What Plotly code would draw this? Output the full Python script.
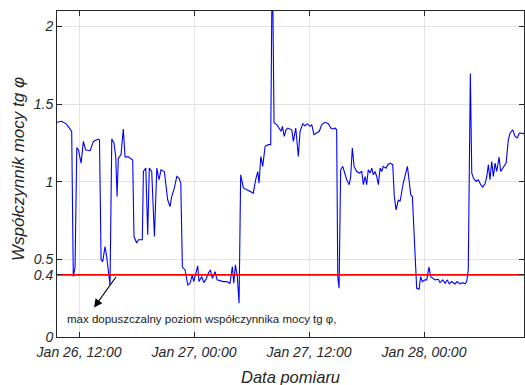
import plotly.graph_objects as go

# Measurement timestamps and power-factor (tg phi) readings
times = [
    "2016-01-26 09:42", "2016-01-26 10:12", "2016-01-26 10:43", "2016-01-26 11:04", "2016-01-26 11:14",
    "2016-01-26 11:24", "2016-01-26 11:35", "2016-01-26 11:46", "2016-01-26 11:56", "2016-01-26 12:13",
    "2016-01-26 12:27", "2016-01-26 12:42", "2016-01-26 13:09", "2016-01-26 13:30", "2016-01-26 14:01",
    "2016-01-26 14:08", "2016-01-26 14:18", "2016-01-26 14:28", "2016-01-26 14:43", "2016-01-26 14:53",
    "2016-01-26 15:14", "2016-01-26 15:25", "2016-01-26 15:39", "2016-01-26 15:50", "2016-01-26 15:58",
    "2016-01-26 16:06", "2016-01-26 16:23", "2016-01-26 16:37", "2016-01-26 16:48", "2016-01-26 17:09",
    "2016-01-26 17:26", "2016-01-26 17:36", "2016-01-26 17:44", "2016-01-26 18:01", "2016-01-26 18:11",
    "2016-01-26 18:36", "2016-01-26 18:43", "2016-01-26 18:58", "2016-01-26 19:10", "2016-01-26 19:20",
    "2016-01-26 19:35", "2016-01-26 19:52", "2016-01-26 20:07", "2016-01-26 20:21", "2016-01-26 20:33",
    "2016-01-26 20:54", "2016-01-26 21:15", "2016-01-26 21:30", "2016-01-26 21:40", "2016-01-26 21:57",
    "2016-01-26 22:12", "2016-01-26 22:26", "2016-01-26 22:37", "2016-01-26 22:47", "2016-01-26 23:04",
    "2016-01-26 23:21", "2016-01-26 23:35", "2016-01-26 23:49", "2016-01-26 23:58", "2016-01-27 00:11",
    "2016-01-27 00:23", "2016-01-27 00:31", "2016-01-27 00:48", "2016-01-27 01:01", "2016-01-27 01:13",
    "2016-01-27 01:30", "2016-01-27 01:42", "2016-01-27 01:55", "2016-01-27 02:12", "2016-01-27 02:24",
    "2016-01-27 02:43", "2016-01-27 03:04", "2016-01-27 03:25", "2016-01-27 03:45", "2016-01-27 04:00",
    "2016-01-27 04:09", "2016-01-27 04:19", "2016-01-27 04:31", "2016-01-27 04:42", "2016-01-27 04:52",
    "2016-01-27 05:09", "2016-01-27 05:30", "2016-01-27 05:51", "2016-01-27 06:11", "2016-01-27 06:26",
    "2016-01-27 06:39", "2016-01-27 06:47", "2016-01-27 06:58", "2016-01-27 07:10", "2016-01-27 07:25",
    "2016-01-27 07:45", "2016-01-27 08:00", "2016-01-27 08:10", "2016-01-27 08:21", "2016-01-27 08:38",
    "2016-01-27 08:52", "2016-01-27 09:05", "2016-01-27 09:13", "2016-01-27 09:25", "2016-01-27 09:36",
    "2016-01-27 09:47", "2016-01-27 10:12", "2016-01-27 10:22", "2016-01-27 10:37", "2016-01-27 10:53",
    "2016-01-27 11:04", "2016-01-27 11:21", "2016-01-27 11:35", "2016-01-27 11:49", "2016-01-27 12:06",
    "2016-01-27 12:17", "2016-01-27 12:31", "2016-01-27 12:48", "2016-01-27 13:04", "2016-01-27 13:20",
    "2016-01-27 13:40", "2016-01-27 14:01", "2016-01-27 14:16", "2016-01-27 14:32", "2016-01-27 14:43",
    "2016-01-27 14:53", "2016-01-27 15:00", "2016-01-27 15:08", "2016-01-27 15:18", "2016-01-27 15:31",
    "2016-01-27 15:41", "2016-01-27 15:56", "2016-01-27 16:12", "2016-01-27 16:21", "2016-01-27 16:31",
    "2016-01-27 16:42", "2016-01-27 16:59", "2016-01-27 17:15", "2016-01-27 17:30", "2016-01-27 17:40",
    "2016-01-27 17:51", "2016-01-27 18:01", "2016-01-27 18:11", "2016-01-27 18:22", "2016-01-27 18:33",
    "2016-01-27 18:43", "2016-01-27 18:53", "2016-01-27 19:04", "2016-01-27 19:14", "2016-01-27 19:25",
    "2016-01-27 19:35", "2016-01-27 19:45", "2016-01-27 20:02", "2016-01-27 20:13", "2016-01-27 20:27",
    "2016-01-27 20:44", "2016-01-27 20:54", "2016-01-27 21:05", "2016-01-27 21:19", "2016-01-27 21:30",
    "2016-01-27 21:50", "2016-01-27 22:07", "2016-01-27 22:16", "2016-01-27 22:26", "2016-01-27 22:37",
    "2016-01-27 22:47", "2016-01-27 22:57", "2016-01-27 23:08", "2016-01-27 23:14", "2016-01-27 23:29",
    "2016-01-27 23:39", "2016-01-27 23:49", "2016-01-28 00:06", "2016-01-28 00:17", "2016-01-28 00:31",
    "2016-01-28 00:42", "2016-01-28 00:55", "2016-01-28 01:09", "2016-01-28 01:30", "2016-01-28 01:40",
    "2016-01-28 01:57", "2016-01-28 02:12", "2016-01-28 02:26", "2016-01-28 02:38", "2016-01-28 02:53",
    "2016-01-28 03:14", "2016-01-28 03:28", "2016-01-28 03:45", "2016-01-28 04:02", "2016-01-28 04:17",
    "2016-01-28 04:27", "2016-01-28 04:37", "2016-01-28 04:50", "2016-01-28 04:59", "2016-01-28 05:09",
    "2016-01-28 05:26", "2016-01-28 05:40", "2016-01-28 05:55", "2016-01-28 06:08", "2016-01-28 06:22",
    "2016-01-28 06:33", "2016-01-28 06:43", "2016-01-28 06:53", "2016-01-28 07:04", "2016-01-28 07:14",
    "2016-01-28 07:25", "2016-01-28 07:35", "2016-01-28 07:50", "2016-01-28 08:00", "2016-01-28 08:17",
    "2016-01-28 08:34", "2016-01-28 08:48", "2016-01-28 08:59", "2016-01-28 09:15", "2016-01-28 09:30",
    "2016-01-28 09:44", "2016-01-28 09:57", "2016-01-28 10:26",
]

tg_phi = [
    1.383, 1.390, 1.370, 1.335, 1.325, 0.390, 0.450, 1.220, 1.205, 1.120,
    1.260, 1.205, 1.200, 1.260, 1.275, 1.270, 0.497, 0.486, 0.583, 0.518,
    0.335, 1.275, 1.250, 1.160, 0.905, 1.150, 1.175, 1.340, 1.160, 1.160,
    1.150, 1.140, 0.647, 0.605, 0.626, 0.626, 1.066, 1.088, 0.658, 1.088,
    1.066, 0.647, 1.088, 1.013, 1.077, 1.066, 0.884, 0.840, 0.905, 0.960,
    1.034, 1.024, 0.990, 0.450, 0.432, 0.335, 0.346, 0.400, 0.357, 0.411,
    0.458, 0.357, 0.389, 0.350, 0.368, 0.411, 0.432, 0.378, 0.421, 0.368,
    0.363, 0.357, 0.357, 0.346, 0.454, 0.346, 0.465, 0.389, 0.217, 1.045,
    0.960, 0.948, 0.937, 0.927, 1.013, 1.066, 0.990, 1.163, 1.099, 1.228,
    1.239, 1.239, 2.500, 1.379, 1.368, 1.346, 1.325, 1.357, 1.292, 1.335,
    1.346, 1.335, 1.260, 1.346, 1.163, 1.325, 1.374, 1.360, 1.374, 1.357,
    1.368, 1.303, 1.314, 1.325, 1.368, 1.383, 1.374, 1.346, 1.340, 1.346,
    1.335, 0.389, 0.314, 1.077, 1.099, 1.066, 1.013, 0.981, 1.034, 1.217,
    1.099, 1.066, 1.056, 1.066, 0.981, 1.034, 0.981, 1.077, 1.056, 1.088,
    1.045, 1.066, 1.034, 0.981, 1.088, 1.066, 1.099, 1.088, 1.110, 1.120,
    1.110, 0.905, 0.819, 0.884, 0.873, 0.992, 1.056, 1.099, 1.013, 0.916,
    0.905, 0.669, 0.411, 0.314, 0.308, 0.389, 0.357, 0.368, 0.368, 0.450,
    0.389, 0.378, 0.368, 0.372, 0.350, 0.368, 0.346, 0.368, 0.342, 0.357,
    0.342, 0.357, 0.342, 0.350, 0.342, 0.357, 0.432, 1.697, 1.056, 1.024,
    1.002, 1.013, 0.981, 0.966, 0.987, 1.034, 1.110, 1.013, 1.131, 1.034,
    1.120, 1.066, 1.159, 1.066, 1.095, 1.120, 1.271, 1.314, 1.335, 1.292,
    1.282, 1.314, 1.310,
]

limit_value = 0.4

x_tick_vals = ["2016-01-26 12:00", "2016-01-27 00:00", "2016-01-27 12:00", "2016-01-28 00:00"]
x_tick_text = ["Jan 26, 12:00", "Jan 27, 00:00", "Jan 27, 12:00", "Jan 28, 00:00"]
y_tick_vals = [0, 0.4, 0.5, 1, 1.5, 2]
y_tick_text = ["0", "0.4", "0.5", "1", "1.5", "2"]

arrow_tip = ("2016-01-26 13:34", 0.19)

FONT = "Liberation Sans, Arial, sans-serif"
TXT = "#262626"

# plot-area geometry in pixels, used to place the free-standing labels
L, R, T, B = 57, 1, 11, 48
PW, PH = 525 - L - R, 385 - T - B

fig = go.Figure()

fig.add_trace(go.Scatter(
    x=times, y=tg_phi, mode="lines",
    line=dict(color="#0000ff", width=1.1),
    showlegend=False, hoverinfo="skip",
))

fig.add_trace(go.Scatter(
    x=[times[0], times[-1]], y=[limit_value, limit_value], mode="lines",
    line=dict(color="#ff0000", width=1.8),
    showlegend=False, hoverinfo="skip",
))

axis_common = dict(
    showline=True, linecolor=TXT, linewidth=1, mirror="ticks",
    ticks="inside", ticklen=5, tickcolor=TXT,
    showgrid=True, gridcolor="#e3e3e3", gridwidth=1,
    zeroline=False,
    tickfont=dict(family=FONT, size=14, color=TXT, style="italic"),
)

fig.update_xaxes(
    range=[times[0], times[-1]],
    tickvals=x_tick_vals, ticktext=x_tick_text,
    ticklabelstandoff=2,
    **axis_common,
)
fig.update_yaxes(
    range=[0, 2.1],
    tickvals=y_tick_vals, ticktext=y_tick_text,
    **axis_common,
)

# arrow pointing away from the limit line
fig.add_annotation(
    x=arrow_tip[0], y=arrow_tip[1], xref="x", yref="y",
    ax=23, ay=-32, axref="pixel", ayref="pixel",
    text="", showarrow=True, arrowhead=2, arrowsize=1.4, arrowwidth=1.2,
    arrowcolor="#000000",
)
fig.add_annotation(
    x=(65 - L) / PW, y=(385 - B - 319) / PH, xref="paper", yref="paper",
    xanchor="left", yanchor="middle",
    text="max dopuszczalny poziom współczynnika mocy tg φ,",
    showarrow=False, font=dict(family=FONT, size=11.5, color="#1a1a1a"),
)
fig.add_annotation(
    x=-(L - 18) / PW, y=(385 - B - 169) / PH, xref="paper", yref="paper",
    xanchor="center", yanchor="middle",
    text="Współczynnik mocy tg φ", textangle=-90, showarrow=False,
    font=dict(family=FONT, size=17, color=TXT, style="italic"),
)
fig.add_annotation(
    x=0.5, y=-(377 - (385 - B)) / PH, xref="paper", yref="paper",
    xanchor="center", yanchor="middle",
    text="Data pomiaru", showarrow=False,
    font=dict(family=FONT, size=16.5, color=TXT, style="italic"),
)

fig.update_layout(
    width=525, height=385,
    margin=dict(l=L, r=R, t=T, b=B),
    paper_bgcolor="white", plot_bgcolor="white",
)

fig.write_html("out.html")
